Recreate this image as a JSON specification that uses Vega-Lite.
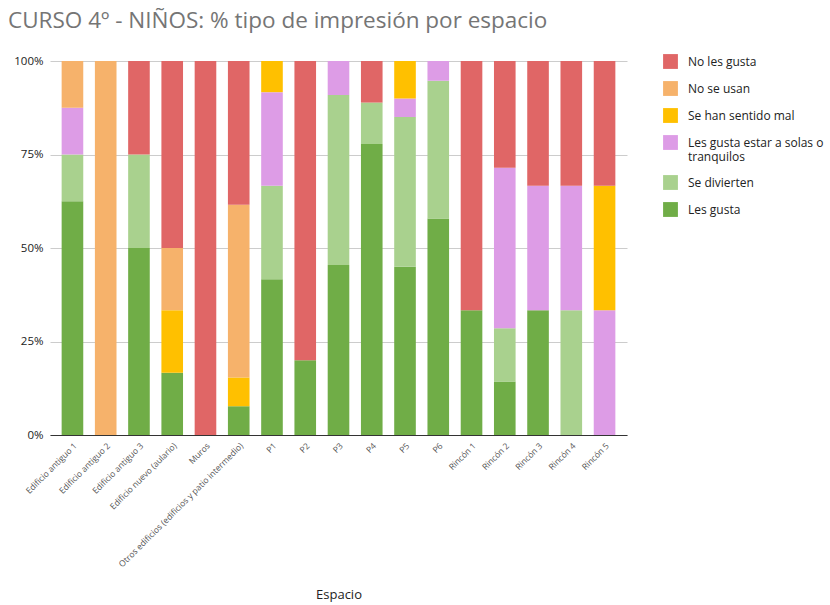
{
  "$schema": "https://vega.github.io/schema/vega-lite/v6.json",
  "autosize": "none",
  "width": 577,
  "height": 374,
  "padding": {"left": 50, "top": 61, "right": 203, "bottom": 170},
  "background": "white",
  "config": {"view": {"stroke": null}, "font": "Open Sans"},
  "title": {
    "text": "CURSO 4º - NIÑOS: % tipo de impresión por espacio",
    "anchor": "start",
    "frame": "group",
    "dx": -42,
    "offset": 22,
    "fontSize": 22.5,
    "fontWeight": "normal",
    "color": "#757575",
    "font": "Open Sans"
  },
  "data": {
    "values": [
      {"espacio": "Edificio antiguo 1", "tipo": "Les gusta", "valor": 5},
      {"espacio": "Edificio antiguo 1", "tipo": "Se divierten", "valor": 1},
      {"espacio": "Edificio antiguo 1", "tipo": "Les gusta estar a solas o tranquilos", "valor": 1},
      {"espacio": "Edificio antiguo 1", "tipo": "No se usan", "valor": 1},
      {"espacio": "Edificio antiguo 2", "tipo": "No se usan", "valor": 1},
      {"espacio": "Edificio antiguo 3", "tipo": "Les gusta", "valor": 2},
      {"espacio": "Edificio antiguo 3", "tipo": "Se divierten", "valor": 1},
      {"espacio": "Edificio antiguo 3", "tipo": "No les gusta", "valor": 1},
      {"espacio": "Edificio nuevo (aulario)", "tipo": "Les gusta", "valor": 1},
      {"espacio": "Edificio nuevo (aulario)", "tipo": "Se han sentido mal", "valor": 1},
      {"espacio": "Edificio nuevo (aulario)", "tipo": "No se usan", "valor": 1},
      {"espacio": "Edificio nuevo (aulario)", "tipo": "No les gusta", "valor": 3},
      {"espacio": "Muros", "tipo": "No les gusta", "valor": 1},
      {"espacio": "Otros edificios (edificios y patio intermedio)", "tipo": "Les gusta", "valor": 1},
      {"espacio": "Otros edificios (edificios y patio intermedio)", "tipo": "Se han sentido mal", "valor": 1},
      {"espacio": "Otros edificios (edificios y patio intermedio)", "tipo": "No se usan", "valor": 6},
      {"espacio": "Otros edificios (edificios y patio intermedio)", "tipo": "No les gusta", "valor": 5},
      {"espacio": "P1", "tipo": "Les gusta", "valor": 5},
      {"espacio": "P1", "tipo": "Se divierten", "valor": 3},
      {"espacio": "P1", "tipo": "Les gusta estar a solas o tranquilos", "valor": 3},
      {"espacio": "P1", "tipo": "Se han sentido mal", "valor": 1},
      {"espacio": "P2", "tipo": "Les gusta", "valor": 1},
      {"espacio": "P2", "tipo": "No les gusta", "valor": 4},
      {"espacio": "P3", "tipo": "Les gusta", "valor": 5},
      {"espacio": "P3", "tipo": "Se divierten", "valor": 5},
      {"espacio": "P3", "tipo": "Les gusta estar a solas o tranquilos", "valor": 1},
      {"espacio": "P4", "tipo": "Les gusta", "valor": 7},
      {"espacio": "P4", "tipo": "Se divierten", "valor": 1},
      {"espacio": "P4", "tipo": "No les gusta", "valor": 1},
      {"espacio": "P5", "tipo": "Les gusta", "valor": 9},
      {"espacio": "P5", "tipo": "Se divierten", "valor": 8},
      {"espacio": "P5", "tipo": "Les gusta estar a solas o tranquilos", "valor": 1},
      {"espacio": "P5", "tipo": "Se han sentido mal", "valor": 2},
      {"espacio": "P6", "tipo": "Les gusta", "valor": 11},
      {"espacio": "P6", "tipo": "Se divierten", "valor": 7},
      {"espacio": "P6", "tipo": "Les gusta estar a solas o tranquilos", "valor": 1},
      {"espacio": "Rincón 1", "tipo": "Les gusta", "valor": 1},
      {"espacio": "Rincón 1", "tipo": "No les gusta", "valor": 2},
      {"espacio": "Rincón 2", "tipo": "Les gusta", "valor": 1},
      {"espacio": "Rincón 2", "tipo": "Se divierten", "valor": 1},
      {"espacio": "Rincón 2", "tipo": "Les gusta estar a solas o tranquilos", "valor": 3},
      {"espacio": "Rincón 2", "tipo": "No les gusta", "valor": 2},
      {"espacio": "Rincón 3", "tipo": "Les gusta", "valor": 1},
      {"espacio": "Rincón 3", "tipo": "Les gusta estar a solas o tranquilos", "valor": 1},
      {"espacio": "Rincón 3", "tipo": "No les gusta", "valor": 1},
      {"espacio": "Rincón 4", "tipo": "Se divierten", "valor": 1},
      {"espacio": "Rincón 4", "tipo": "Les gusta estar a solas o tranquilos", "valor": 1},
      {"espacio": "Rincón 4", "tipo": "No les gusta", "valor": 1},
      {"espacio": "Rincón 5", "tipo": "Les gusta estar a solas o tranquilos", "valor": 1},
      {"espacio": "Rincón 5", "tipo": "Se han sentido mal", "valor": 1},
      {"espacio": "Rincón 5", "tipo": "No les gusta", "valor": 1}
    ]
  },
  "transform": [
    {"calculate": "indexof(['Les gusta','Se divierten','Les gusta estar a solas o tranquilos','Se han sentido mal','No se usan','No les gusta'], datum.tipo)", "as": "orden"}
  ],
  "mark": {"type": "bar"},
  "encoding": {
    "x": {
      "field": "espacio",
      "type": "nominal",
      "sort": null,
      "title": "Espacio",
      "scale": {"paddingInner": 0.35, "paddingOuter": 0.35},
      "axis": {
        "labelAngle": -45,
        "labelFontSize": 8.5,
        "labelColor": "#555555",
        "labelFont": "Open Sans",
        "labelLimit": 400,
        "ticks": false,
        "labelPadding": 6,
        "domainColor": "#333333",
        "domainWidth": 1,
        "titleFontSize": 13,
        "titleFontWeight": "normal",
        "titleColor": "#222222",
        "titleFont": "Open Sans",
        "titleY": 153,
        "titleBaseline": "top"
      }
    },
    "y": {
      "field": "valor",
      "type": "quantitative",
      "stack": "normalize",
      "title": null,
      "axis": {
        "values": [0, 0.25, 0.5, 0.75, 1],
        "format": ".0%",
        "ticks": false,
        "domain": false,
        "labelFontSize": 11.5,
        "labelColor": "#222222",
        "labelPadding": 7,
        "gridColor": "#cccccc",
        "gridWidth": 1
      }
    },
    "color": {
      "field": "tipo",
      "type": "nominal",
      "title": null,
      "scale": {
        "domain": ["No les gusta", "No se usan", "Se han sentido mal", "Les gusta estar a solas o tranquilos", "Se divierten", "Les gusta"],
        "range": ["#e06666", "#f6b26b", "#ffc000", "#dd9ce6", "#a9d18e", "#70ad47"]
      },
      "legend": {
        "orient": "none",
        "legendX": 613,
        "legendY": -7,
        "symbolType": "square",
        "symbolSize": 220,
        "symbolStrokeWidth": 0,
        "labelFontSize": 12,
        "labelColor": "#222222",
        "labelFont": "Open Sans",
        "labelOffset": 10,
        "rowPadding": 12,
        "labelLimit": 300,
        "labelExpr": "datum.label == 'Les gusta estar a solas o tranquilos' ? ['Les gusta estar a solas o', 'tranquilos'] : datum.label"
      }
    },
    "order": {"field": "orden", "type": "quantitative", "sort": "ascending"}
  }
}
